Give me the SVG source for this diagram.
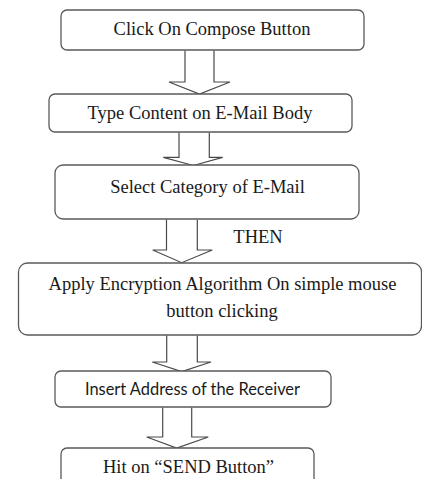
<svg xmlns="http://www.w3.org/2000/svg" width="422" height="479" viewBox="0 0 422 479">
  <style>
    .box { fill: #ffffff; stroke: #5a5a5a; stroke-width: 1.3; }
    .arrow { fill: #ffffff; stroke: #4a4a4a; stroke-width: 1.2; stroke-linejoin: miter; }
    .serif { font-family: "Liberation Serif", "Times New Roman", serif; font-size: 18.5px; fill: #1a1a1a; text-anchor: middle; }
    .sans { font-family: Lato, "Liberation Sans", sans-serif; font-size: 17px; fill: #1a1a1a; text-anchor: middle; }
  </style>
  <rect width="422" height="479" fill="#ffffff"/>

  <!-- block arrows between steps -->
  <g id="connectors">
    <path class="arrow" d="M185,50.5 V82 H169 L199.5,94 L230,82 H214 V50.5"/>
    <path class="arrow" d="M179,132.5 V157.3 H163.3 L193.3,165.5 L222.7,157.3 H209.3 V132.5"/>
    <path class="arrow" d="M166.5,219.5 V250 H152.7 L181.7,262.7 L212.3,250 H197.3 V219.5"/>
    <path class="arrow" d="M166.7,335.5 V362 H152.3 L181.7,371.5 L211,362 H197.3 V335.5"/>
    <path class="arrow" d="M162.7,407.5 V437 H146.7 L176.7,448 L208.3,437 H191.7 V407.5"/>
  </g>

  <g id="step-compose">
    <rect class="box" x="61" y="10" width="303" height="40" rx="6"/>
    <text class="serif" x="212" y="35">Click On Compose Button</text>
  </g>

  <g id="step-content">
    <rect class="box" x="49" y="94" width="303" height="38" rx="6"/>
    <text class="serif" x="200" y="119">Type Content on E-Mail Body</text>
  </g>

  <g id="step-category">
    <rect class="box" x="55" y="165" width="304" height="54" rx="8"/>
    <text class="serif" x="207.5" y="193">Select Category of E-Mail</text>
  </g>

  <g id="label-then">
    <text class="serif" x="258" y="243">THEN</text>
  </g>

  <g id="step-encrypt">
    <rect class="box" x="18.5" y="263" width="403" height="72" rx="9"/>
    <text class="serif" x="222.5" y="290">Apply Encryption Algorithm On simple mouse</text>
    <text class="serif" x="222" y="317">button clicking</text>
  </g>

  <g id="step-address">
    <rect class="box" x="55" y="371" width="276" height="36" rx="6"/>
    <text class="sans" x="192.5" y="395" textLength="215" lengthAdjust="spacingAndGlyphs">Insert Address of the Receiver</text>
  </g>

  <g id="step-send">
    <rect class="box" x="61" y="448" width="253" height="40" rx="6"/>
    <text class="serif" x="188.5" y="473">Hit on “SEND Button”</text>
  </g>
</svg>
